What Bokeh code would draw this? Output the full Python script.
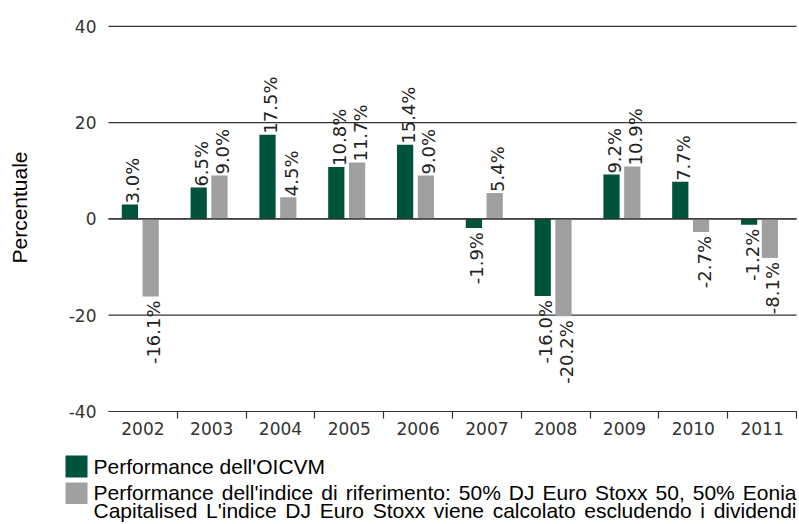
import math
from bokeh.plotting import figure
from bokeh.models import ColumnDataSource, Range1d, FixedTicker, CustomJSTickFormatter
from bokeh.embed import file_html
from bokeh.resources import INLINE
from bokeh.core.properties import value

# ---------------- data ----------------
years = ["2002", "2003", "2004", "2005", "2006", "2007", "2008", "2009", "2010", "2011"]
fund = [3.0, 6.5, 17.5, 10.8, 15.4, -1.9, -16.0, 9.2, 7.7, -1.2]
bench = [-16.1, 9.0, 4.5, 11.7, 9.0, 5.4, -20.2, 10.9, -2.7, -8.1]
y_ticks = [-40, -20, 0, 20, 40]
y_title = "Percentuale"
fund_label = "Performance dell'OICVM"
bench_label_lines = [
    "Performance dell'indice di riferimento: 50% DJ Euro Stoxx 50, 50% Eonia",
    "Capitalised L'indice DJ Euro Stoxx viene calcolato escludendo i dividendi",
]

# ---------------- style / layout ----------------
GREEN = "#00533B"
GRAY = "#A0A0A0"
LINE = "#333333"
TICK_FONT = "DejaVu Sans"
LEG_FONT = "Liberation Sans"

W, H = 797, 522
FL, FR, FT, FB = 108, 796, 21, 411          # plot area edges in canvas pixels
Y0, Y1 = -40, 41
n = len(years)
GREEN_POS, GRAY_POS, BAR_W = 0.311, 0.613, 0.236

def dx(px):
    return (px - FL) / (FR - FL) * n

def dy(py):
    return Y1 - (py - FT) / (FB - FT) * (Y1 - Y0)

# the frame covers the whole canvas; axes are pinned with fixed_location
p = figure(width=W, height=H, x_range=Range1d(dx(0), dx(W)), y_range=Range1d(dy(H), dy(0)),
           output_backend="svg", toolbar_location=None, min_border=0)
p.outline_line_color = None
p.grid.visible = False

# horizontal grid lines across the plot area only
p.segment(x0=[0] * len(y_ticks), x1=[n] * len(y_ticks), y0=y_ticks, y1=y_ticks,
          line_color=LINE, line_width=1.2)

src = ColumnDataSource(dict(
    xg=[i + GREEN_POS for i in range(n)],
    xb=[i + GRAY_POS for i in range(n)],
    fund=fund, bench=bench,
))
p.vbar(x="xg", top="fund", bottom=0, width=BAR_W, fill_color=GREEN, line_color=None, source=src)
p.vbar(x="xb", top="bench", bottom=0, width=BAR_W, fill_color=GRAY, line_color=None, source=src)
# redraw zero line over bars
p.segment(x0=[0], x1=[n], y0=[0], y1=[0], line_color=LINE, line_width=1.2)

# value labels
pos = dict(x=[], y=[], t=[])
neg = dict(x=[], y=[], t=[])
for i in range(n):
    for off, v in ((GREEN_POS, fund[i]), (GRAY_POS, bench[i])):
        d = pos if v >= 0 else neg
        d["x"].append(i + off)
        d["y"].append(v)
        d["t"].append(f"{v:.1f}%")
common = dict(angle=math.pi / 2, text_baseline="middle", x_offset=3,
              text_font=value(TICK_FONT), text_font_size=value("18px"), text_color="#222222")
p.text(x="x", y="y", text="t", text_align="left", y_offset=-1, source=ColumnDataSource(pos), **common)
p.text(x="x", y="y", text="t", text_align="right", y_offset=4, source=ColumnDataSource(neg), **common)

# x axis pinned at y = -40
p.xaxis.fixed_location = Y0
p.xaxis.bounds = (0, n)
p.xaxis.ticker = FixedTicker(ticks=[i + 0.5 for i in range(n)], minor_ticks=list(range(1, n + 1)))
p.xaxis.formatter = CustomJSTickFormatter(args=dict(labels=years),
                                          code="return labels[Math.floor(tick)] || '';")
p.xaxis.major_tick_line_color = None
p.xaxis.major_tick_out = 0
p.xaxis.major_tick_in = 0
p.xaxis.minor_tick_line_color = LINE
p.xaxis.minor_tick_line_width = 1.2
p.xaxis.minor_tick_out = 7
p.xaxis.minor_tick_in = 0
p.xaxis.axis_line_color = LINE
p.xaxis.axis_line_width = 1.2
p.xaxis.major_label_standoff = 3
p.xaxis.major_label_text_font = TICK_FONT
p.xaxis.major_label_text_font_size = "17px"
p.xaxis.major_label_text_color = LINE

# y axis pinned at x = 0
p.yaxis.fixed_location = 0
p.yaxis.bounds = (Y0, 40)
p.yaxis.ticker = FixedTicker(ticks=y_ticks)
p.yaxis.formatter = CustomJSTickFormatter(code="return String(tick);")
p.yaxis.axis_line_color = None
p.yaxis.major_tick_line_color = None
p.yaxis.minor_tick_line_color = None
p.yaxis.major_tick_out = 0
p.yaxis.major_tick_in = 0
p.yaxis.major_label_standoff = 12
p.yaxis.major_label_text_font = TICK_FONT
p.yaxis.major_label_text_font_size = "17px"
p.yaxis.major_label_text_color = LINE

# y title
p.text(x=[dx(18.5)], y=[dy(207)], text=[y_title], angle=math.pi / 2,
       text_align="center", text_baseline="middle",
       text_font=value(LEG_FONT), text_font_size=value("21px"), text_color="black")

# ---------------- legend ----------------
SW_L, SW_R = 65, 87
p.quad(left=[dx(SW_L)] * 2, right=[dx(SW_R)] * 2, top=[dy(455), dy(482)], bottom=[dy(477), dy(503.5)],
       fill_color=[GREEN, GRAY], line_color=None)

TX0, TX1, FS = 93, 796, 21
baselines = [465.5, 492, 510]

def justify(line, x0, x1, size):
    words = line.split(" ")
    try:
        from PIL import ImageFont
        f = ImageFont.truetype("LiberationSans-Regular.ttf", size)
        widths = [f.getlength(w) for w in words]
    except Exception:
        return [line], [x0]
    gap = (x1 - x0 - sum(widths)) / (len(words) - 1)
    xs, x = [], x0
    for w in widths:
        xs.append(x)
        x += w + gap
    return words, xs

lx, ly, lt = [dx(TX0)], [dy(baselines[0])], [fund_label]
for line, b in zip(bench_label_lines, baselines[1:]):
    words, xs = justify(line, TX0, TX1, FS)
    for w, x in zip(words, xs):
        lx.append(dx(x)); ly.append(dy(b)); lt.append(w)

p.text(x="x", y="y", text="t", source=ColumnDataSource(dict(x=lx, y=ly, t=lt)),
       text_align="left", text_baseline="alphabetic",
       text_font=value(LEG_FONT), text_font_size=value(f"{FS}px"), text_color="black")

open("out.html", "w").write(file_html(p, INLINE))
